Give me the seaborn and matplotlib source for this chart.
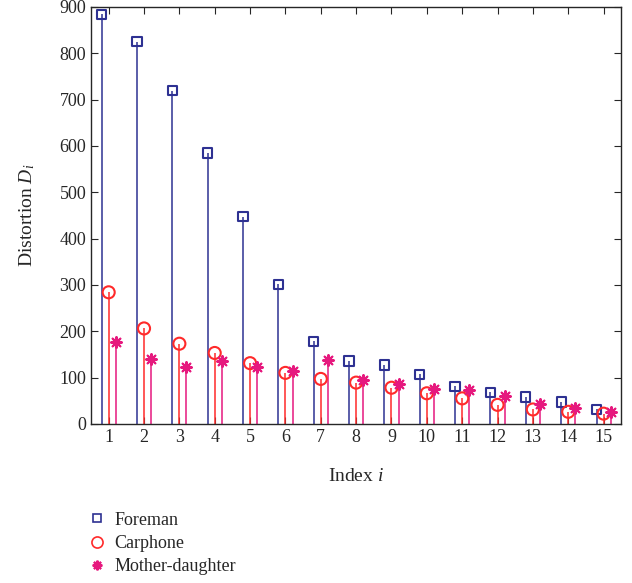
import numpy as np
import pandas as pd
import matplotlib
matplotlib.use("Agg")
import matplotlib.pyplot as plt
import seaborn as sns

# Values
index = list(range(1, 16))
foreman = [884, 825, 719, 585, 447, 301, 178, 136, 127, 107, 81, 68, 58, 47, 31]
carphone = [284, 206, 173, 153, 131, 110, 97, 89, 78, 66, 55, 41, 31, 26, 22]
mother_daughter = [176, 141, 123, 136, 123, 114, 138, 94, 86, 76, 73, 60, 42, 34, 26]

series_names = ["Foreman", "Carphone", "Mother-daughter"]
offsets = {"Foreman": -0.2, "Carphone": 0.0, "Mother-daughter": 0.2}
colors = {"Foreman": "#2e3192", "Carphone": "#ff2a2a", "Mother-daughter": "#e6197e"}
asterisk = (8, 2, 0)
markers = {"Foreman": "s", "Carphone": "o", "Mother-daughter": asterisk}

df = pd.DataFrame({
    "index": index * 3,
    "value": foreman + carphone + mother_daughter,
    "series": ["Foreman"] * 15 + ["Carphone"] * 15 + ["Mother-daughter"] * 15,
})
df["x"] = df["index"] + df["series"].map(offsets)

sns.set_style("ticks")
plt.rcParams["font.family"] = ["Liberation Serif", "DejaVu Serif"]
plt.rcParams["mathtext.fontset"] = "custom"
plt.rcParams["mathtext.rm"] = "Liberation Serif"
plt.rcParams["mathtext.it"] = "Liberation Serif:italic"

fig = plt.figure(figsize=(6.32, 5.83), dpi=100)
ax = fig.add_axes([0.144, 0.273, 0.839, 0.715])

# stems
for name in series_names:
    sub = df[df["series"] == name]
    ax.vlines(sub["x"], 0, sub["value"], color=colors[name], linewidth=1.1, zorder=2)

# markers
sizes = {"Foreman": 45, "Carphone": 75, "Mother-daughter": 60}
for name in series_names:
    sub = df[df["series"] == name]
    sns.scatterplot(data=sub, x="x", y="value", ax=ax, marker=markers[name],
                    s=sizes[name],
                    facecolor="none" if name != "Mother-daughter" else colors[name],
                    edgecolor=colors[name], linewidth=1.5, zorder=3, legend=False)

ax.set_xlim(0.5, 15.5)
ax.set_ylim(0, 900)
ax.set_xticks(index)
ax.set_yticks(range(0, 901, 100))
ax.tick_params(direction="in", top=True, right=True, labelsize=13, length=5)
for s in ax.spines.values():
    s.set_linewidth(1.0)
ax.set_xlabel("Index $i$", fontsize=14, labelpad=16)
ax.set_ylabel("Distortion $D_i$", fontsize=14, labelpad=16)

handles = [
    plt.Line2D([], [], linestyle="none", marker="s", markersize=6, markerfacecolor="none",
               markeredgecolor=colors["Foreman"], markeredgewidth=1.2),
    plt.Line2D([], [], linestyle="none", marker="o", markersize=8, markerfacecolor="none",
               markeredgecolor=colors["Carphone"], markeredgewidth=1.2),
    plt.Line2D([], [], linestyle="none", marker=asterisk, markersize=7,
               color=colors["Mother-daughter"], markeredgewidth=1.5),
]
fig.legend(handles, series_names, loc="upper left", bbox_to_anchor=(0.13, 0.135),
           frameon=False, fontsize=13, handlelength=0.8, handletextpad=0.6,
           labelspacing=0.35, borderaxespad=0)

fig.savefig("out.png", dpi=100)
